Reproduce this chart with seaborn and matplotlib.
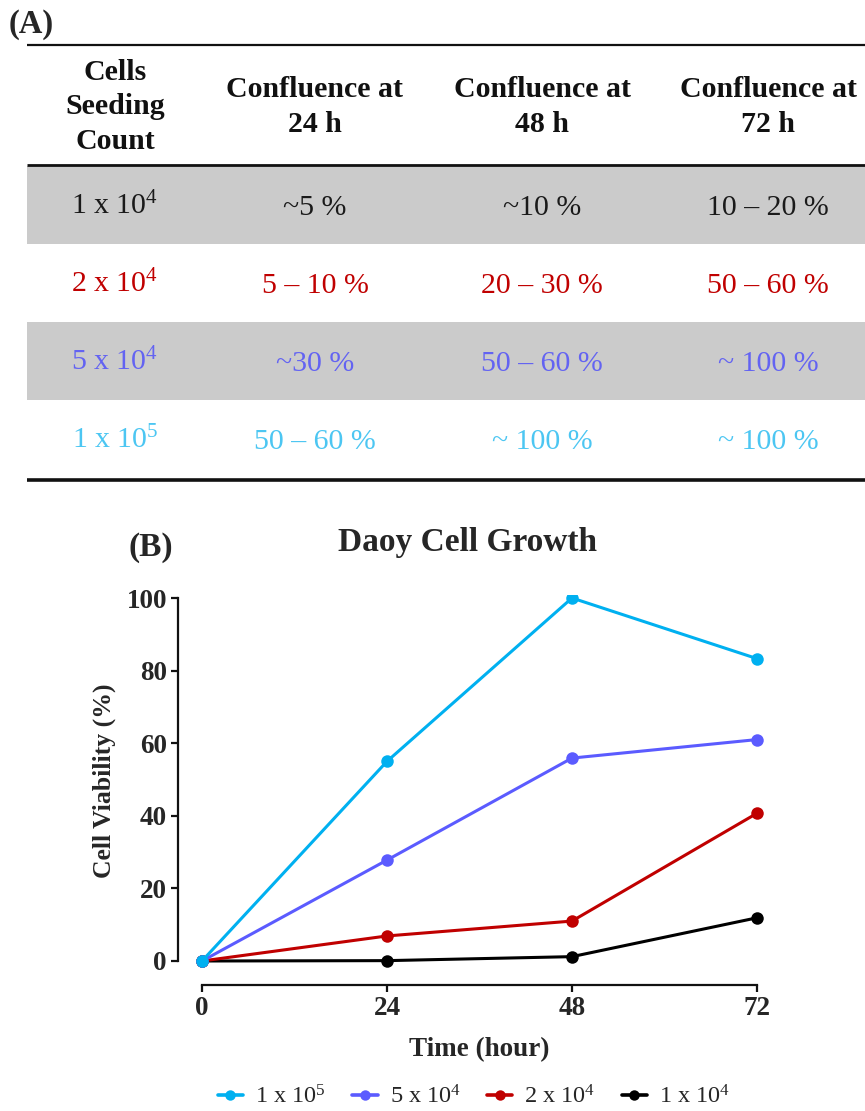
import matplotlib
matplotlib.use("Agg")
import matplotlib.pyplot as plt
import seaborn as sns
import pandas as pd
from matplotlib.lines import Line2D
from matplotlib.patches import Rectangle

# ---- data ----
hours = [0, 24, 48, 72]
viab_1e5 = [0, 55.0, 100.0, 83.3]
viab_5e4 = [0, 27.8, 55.9, 61.0]
viab_2e4 = [0, 6.9, 11.0, 40.7]
viab_1e4 = [0, 0.1, 1.2, 11.9]

series_names = ["1 x 10^4", "2 x 10^4", "5 x 10^4", "1 x 10^5"]
series_labels = [r"1 x 10$^{4}$", r"2 x 10$^{4}$", r"5 x 10$^{4}$", r"1 x 10$^{5}$"]
series_colors = ["#000000", "#C00000", "#5B5BFF", "#00B0F0"]

table_header = ["Cells\nSeeding\nCount", "Confluence at\n24 h", "Confluence at\n48 h", "Confluence at\n72 h"]
table_rows = [
    [r"1 x 10$^{4}$", "~5 %", "~10 %", "10 – 20 %"],
    [r"2 x 10$^{4}$", "5 – 10 %", "20 – 30 %", "50 – 60 %"],
    [r"5 x 10$^{4}$", "~30 %", "50 – 60 %", "~ 100 %"],
    [r"1 x 10$^{5}$", "50 – 60 %", "~ 100 %", "~ 100 %"],
]
row_text_colors = ["#1a1a1a", "#C00000", "#6363F2", "#4CC6F2"]
row_shaded = [True, False, True, False]

# ---- style ----
sns.set_theme(style="ticks")
plt.rcParams["font.family"] = ["Liberation Serif", "DejaVu Serif"]
plt.rcParams["mathtext.fontset"] = "custom"
plt.rcParams["mathtext.rm"] = "Liberation Serif"
plt.rcParams["mathtext.it"] = "Liberation Serif:italic"
plt.rcParams["mathtext.bf"] = "Liberation Serif:bold"

W, H = 865, 1111
fig = plt.figure(figsize=(W / 100, H / 100), dpi=100)

# ---- panel A: table drawn in pixel coordinates ----
tab = fig.add_axes([0, 0, 1, 1])
tab.set_xlim(0, W)
tab.set_ylim(H, 0)
tab.axis("off")
tab.set_zorder(0)

fig.text(9 / W, 1 - 24 / H, "(A)", fontsize=23.5, fontweight="bold", va="center", ha="left")

x0, x1 = 27, 865
col_x = [115, 315, 542, 768]
row_top = [166, 244, 322, 400]
row_h = 78

for top, shaded in zip(row_top, row_shaded):
    if shaded:
        tab.add_patch(Rectangle((x0, top), x1 - x0, row_h, facecolor="#CBCBCB", edgecolor="none"))

tab.plot([x0, x1], [45, 45], color="#111111", lw=1.6, solid_capstyle="butt")
tab.plot([x0, x1], [165, 165], color="#111111", lw=2.0, solid_capstyle="butt")
tab.plot([x0, x1], [480, 480], color="#111111", lw=2.6, solid_capstyle="butt")

for cx, head in zip(col_x, table_header):
    tab.text(cx, 107, head, ha="center", va="center", fontsize=21.5, fontweight="bold",
             linespacing=1.36, color="#111111")

for top, row, color in zip(row_top, table_rows, row_text_colors):
    for i, (cx, cell) in enumerate(zip(col_x, row)):
        dy = 1 if i == 0 else 3
        tab.text(cx, top + row_h / 2 + dy, cell, ha="center", va="center",
                 fontsize=21.5, color=color)

# ---- panel B: growth curves ----
df = pd.DataFrame({
    "Time": hours * 4,
    "Viability": viab_1e4 + viab_2e4 + viab_5e4 + viab_1e5,
    "Seeding": [n for n in series_names for _ in hours],
})

ax = fig.add_axes([178 / W, (H - 985) / H, (765 - 178) / W, (985 - 595) / H])
ax.set_zorder(2)
ax.patch.set_alpha(0)
sns.lineplot(data=df, x="Time", y="Viability", hue="Seeding", hue_order=series_names,
             palette=series_colors, marker="o", markersize=9, markeredgewidth=0,
             linewidth=2.2, ax=ax, legend=False)

ax.set_xlim(-24 / 7.708, 72 + 8 / 7.708)
ax.set_ylim(-24 / 3.63, 100 + 3 / 3.63)
ax.set_xticks(hours)
ax.set_yticks([0, 20, 40, 60, 80, 100])
ax.spines["top"].set_visible(False)
ax.spines["right"].set_visible(False)
ax.spines["left"].set_bounds(0, 100)
ax.spines["bottom"].set_bounds(0, 72)
for s in ("left", "bottom"):
    ax.spines[s].set_linewidth(1.6)
    ax.spines[s].set_color("#111111")
ax.tick_params(axis="both", which="major", length=5, width=1.6, color="#111111",
               labelsize=19.5, pad=3)
for lbl in ax.get_xticklabels() + ax.get_yticklabels():
    lbl.set_fontweight("bold")
ax.set_xlabel("Time (hour)", fontsize=19.5, fontweight="bold", va="center")
ax.set_ylabel("Cell Viability (%)", fontsize=18.5, fontweight="bold", va="center")
ax.xaxis.set_label_coords((479 - 178) / 587, -(1050 - 985) / 390)
ax.yaxis.set_label_coords((104 - 178) / 587, (985 - 781) / 390)

fig.text(467 / W, 1 - 543 / H, "Daoy Cell Growth", fontsize=24, fontweight="bold",
         ha="center", va="center")
fig.text(128 / W, 1 - 548 / H, "(B)", fontsize=24, fontweight="bold", ha="left", va="center")

handles = [Line2D([0], [0], color=c, marker="o", markersize=7.5, markeredgewidth=0, lw=2.6)
           for c in series_colors[::-1]]
fig.legend(handles, series_labels[::-1], loc="center", bbox_to_anchor=(474 / W, 1 - 1097 / H),
           ncol=4, frameon=False, fontsize=17.5, handlelength=1.05, handletextpad=0.5,
           columnspacing=1.07, borderpad=0, borderaxespad=0)

fig.savefig("out.png", dpi=100)
